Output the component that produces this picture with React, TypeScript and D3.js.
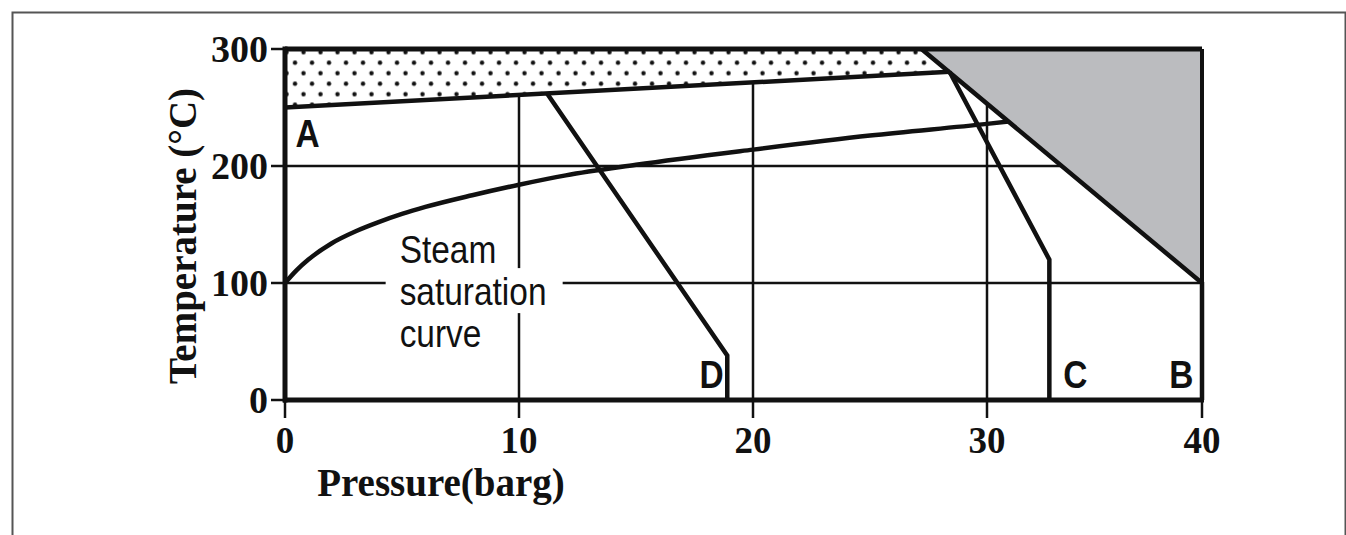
import React from "react";
import * as d3 from "d3";

// axis ticks
const xTicks = [0, 10, 20, 30, 40];
const yTicks = [0, 100, 200, 300];
const gridX = [10, 20, 30];
const gridY = [100, 200];

// [pressure (barg), temperature (°C)]
const saturation = [
  [0, 100], [0.5, 111], [1, 120], [2, 134], [3, 144], [4, 152], [5, 159],
  [6, 165], [8, 175], [10, 184], [12, 192], [15, 201], [20, 214], [25, 226],
  [30, 236], [31, 238],
];
const lineA = [[0, 250], [28.4, 280.5]];
const lineB = [[27.2, 300], [40, 100], [40, 0]];
const lineC = [[28.4, 280.5], [32.9, 120], [32.9, 0]];
const lineD = [[11.2, 262], [18.9, 38], [18.9, 0]];
const dottedZone = [[0, 300], [27.2, 300], [28.4, 280.5], [0, 250]];
const greyZone = [[27.2, 300], [40, 300], [40, 100]];

const curveLabels = [
  { name: "A", p: 0.45, t: 216, anchor: "start" },
  { name: "D", p: 18.75, t: 10, anchor: "end" },
  { name: "C", p: 33.55, t: 10, anchor: "start" },
  { name: "B", p: 39.6, t: 10, anchor: "end" },
];
const noteLines = ["Steam", "saturation", "curve"];

const serif = "'Liberation Serif', 'Times New Roman', serif";
const sans = "'Liberation Sans', Arial, sans-serif";
const ink = "#111";

const App = () => {
  // the printed axis is not quite even: the last decade is a bit shorter
  const x = d3.scaleLinear().domain([0, 30, 40]).range([285, 987, 1202]);
  const y = d3.scaleLinear().domain([0, 300]).range([400, 49]);

  const line = d3
    .line<number[]>()
    .x(d => x(d[0]))
    .y(d => y(d[1]));
  const smooth = d3
    .line<number[]>()
    .x(d => x(d[0]))
    .y(d => y(d[1]))
    .curve(d3.curveMonotoneX);
  const area = (pts: number[][]) => line(pts) + "Z";

  const noteX = x(4.9);
  const noteY = y(117);

  return (
    <svg
      width={1346}
      height={535}
      style={{ position: "absolute", left: 0, top: 0, background: "#fff" }}
    >
      <defs>
        <pattern
          id="dots"
          patternUnits="userSpaceOnUse"
          x={290.75}
          y={57.45}
          width={17}
          height={21}
        >
          <rect width={17} height={21} fill="#fff" />
          <circle cx={4.25} cy={5.25} r={2.2} fill={ink} />
          <circle cx={12.75} cy={15.75} r={2.2} fill={ink} />
        </pattern>
      </defs>

      {/* outer frame */}
      <rect x={12.5} y={12.5} width={1333} height={600} fill="none" stroke="#555" strokeWidth={2} />

      {/* grid */}
      {gridY.map(t => (
        <line key={"gy" + t} x1={x(0)} x2={x(40)} y1={y(t)} y2={y(t)} stroke={ink} strokeWidth={2.5} />
      ))}
      {gridX.map(p => (
        <line key={"gx" + p} x1={x(p)} x2={x(p)} y1={y(300)} y2={y(0)} stroke={ink} strokeWidth={2.5} />
      ))}

      {/* shaded zones */}
      <path d={area(dottedZone)} fill="url(#dots)" />
      <path d={area(greyZone)} fill="#bbbcbf" />

      {/* white box behind the note */}
      <rect x={noteX - 14} y={noteY + 42 - 37} width={177} height={45} fill="#fff" />

      {/* curves */}
      <path d={smooth(saturation) || ""} fill="none" stroke={ink} strokeWidth={4.5} />
      {[lineA, lineB, lineC, lineD].map((pts, i) => (
        <path key={i} d={line(pts) || ""} fill="none" stroke={ink} strokeWidth={4.5} strokeLinejoin="miter" />
      ))}

      {/* plot frame and axes */}
      <line x1={x(0)} x2={x(40)} y1={y(300)} y2={y(300)} stroke={ink} strokeWidth={5} />
      <line x1={x(40)} x2={x(40)} y1={y(300)} y2={y(0)} stroke={ink} strokeWidth={4} />
      <line x1={x(0)} x2={x(0)} y1={y(300) - 2.5} y2={y(0) + 2.5} stroke={ink} strokeWidth={5} />
      <line x1={x(0) - 2} x2={x(40) + 2} y1={y(0)} y2={y(0)} stroke={ink} strokeWidth={5} />

      {/* y ticks */}
      {yTicks.map(t => (
        <g key={"yt" + t}>
          <line x1={x(0) - 14} x2={x(0)} y1={y(t)} y2={y(t)} stroke={ink} strokeWidth={2.5} />
          <text
            x={x(0) - 17}
            y={y(t)}
            dy="0.35em"
            textAnchor="end"
            fontFamily={serif}
            fontWeight="bold"
            fontSize={38}
            fill={ink}
          >
            {t}
          </text>
        </g>
      ))}

      {/* x ticks */}
      {xTicks.map(p => (
        <g key={"xt" + p}>
          <line x1={x(p)} x2={x(p)} y1={y(0)} y2={y(0) + 18} stroke={ink} strokeWidth={2.5} />
          <text
            x={x(p)}
            y={453}
            textAnchor="middle"
            fontFamily={serif}
            fontWeight="bold"
            fontSize={37}
            fill={ink}
          >
            {p}
          </text>
        </g>
      ))}

      {/* axis titles */}
      <text x={441} y={496} textAnchor="middle" fontFamily={serif} fontWeight="bold" fontSize={39} fill={ink}>
        Pressure(barg)
      </text>
      <text
        transform="translate(196,236) rotate(-90)"
        textAnchor="middle"
        fontFamily={serif}
        fontWeight="bold"
        fontSize={39}
        fill={ink}
      >
        Temperature (°C)
      </text>

      {/* curve letters */}
      {curveLabels.map(l => (
        <text
          key={l.name}
          transform={`translate(${x(l.p)},${y(l.t)}) scale(0.88,1)`}
          textAnchor={l.anchor}
          fontFamily={sans}
          fontWeight="bold"
          fontSize={38}
          fill={ink}
        >
          {l.name}
        </text>
      ))}

      {/* steam saturation note */}
      {noteLines.map((s, i) => (
        <text
          key={s}
          transform={`translate(${noteX},${noteY + i * 42}) scale(0.88,1)`}
          fontFamily={sans}
          fontSize={38}
          fill={ink}
        >
          {s}
        </text>
      ))}
    </svg>
  );
};

export default App;
